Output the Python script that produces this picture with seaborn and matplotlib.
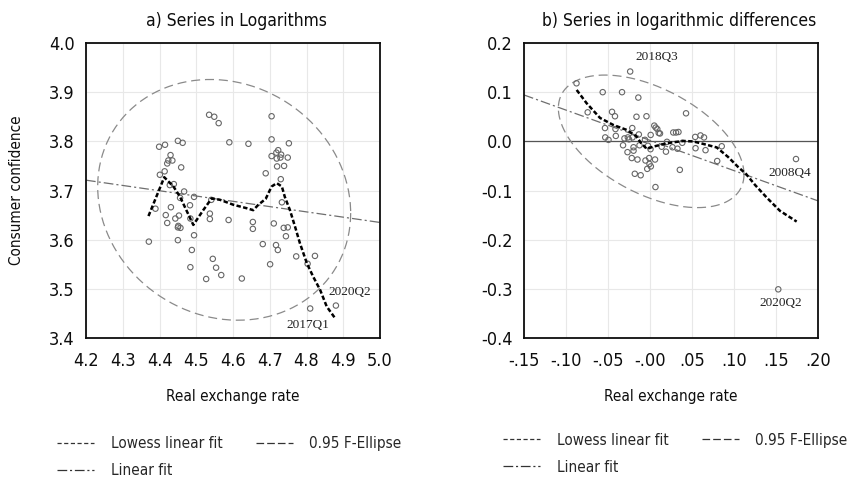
import numpy as np
import pandas as pd
import matplotlib
matplotlib.use("Agg")
import matplotlib.pyplot as plt
from matplotlib.lines import Line2D
import seaborn as sns

# ---------------- data ----------------
# Panel a) series in logarithms
log_rer = [4.371, 4.389, 4.399, 4.415, 4.450, 4.463, 4.430, 4.424, 4.435, 4.421,
           4.459, 4.414, 4.401, 4.428, 4.439, 4.467, 4.456, 4.494, 4.483, 4.431,
           4.417, 4.453, 4.443, 4.484, 4.421, 4.451, 4.457, 4.450, 4.450, 4.494,
           4.488, 4.484, 4.535, 4.549, 4.561, 4.590, 4.541, 4.537, 4.537, 4.588,
           4.545, 4.554, 4.568, 4.527, 4.624, 4.642, 4.654, 4.654, 4.681, 4.689,
           4.705, 4.705, 4.705, 4.718, 4.723, 4.731, 4.719, 4.729, 4.720, 4.739,
           4.752, 4.749, 4.730, 4.733, 4.711, 4.717, 4.722, 4.738, 4.749, 4.744,
           4.701, 4.772, 4.823, 4.803, 4.810, 4.880]
log_cc = [3.596, 3.663, 3.789, 3.793, 3.801, 3.797, 3.772, 3.761, 3.761, 3.755,
          3.747, 3.739, 3.732, 3.711, 3.713, 3.698, 3.685, 3.687, 3.670, 3.666,
          3.650, 3.649, 3.643, 3.643, 3.634, 3.628, 3.624, 3.625, 3.599, 3.609,
          3.579, 3.544, 3.854, 3.850, 3.837, 3.798, 3.681, 3.653, 3.642, 3.640,
          3.561, 3.543, 3.528, 3.520, 3.521, 3.795, 3.636, 3.622, 3.591, 3.735,
          3.851, 3.804, 3.770, 3.777, 3.782, 3.773, 3.765, 3.767, 3.749, 3.750,
          3.796, 3.767, 3.723, 3.676, 3.633, 3.589, 3.579, 3.624, 3.625, 3.607,
          3.550, 3.566, 3.567, 3.551, 3.460, 3.466]
lowess_a_x = [4.370, 4.413, 4.438, 4.456, 4.492, 4.519, 4.542, 4.565, 4.601, 4.637,
              4.655, 4.669, 4.689, 4.705, 4.719, 4.733, 4.741, 4.755, 4.769, 4.782,
              4.801, 4.818, 4.837, 4.855, 4.878]
lowess_a_y = [3.648, 3.727, 3.708, 3.687, 3.630, 3.660, 3.684, 3.681, 3.671, 3.664,
              3.660, 3.671, 3.683, 3.708, 3.715, 3.708, 3.687, 3.660, 3.626, 3.593,
              3.552, 3.525, 3.498, 3.464, 3.440]
linfit_a_x = [4.2, 5.0]
linfit_a_y = [3.721, 3.635]
# ellipse: centre, half-width, half-height, correlation
ell_a = dict(cx=4.576, cy=3.681, rx=0.3442, ry=0.2448, rho=-0.11)
labels_a = ["2020Q2", "2017Q1"]
labels_a_x = [4.918, 4.805]
labels_a_y = [3.494, 3.4265]

# Panel b) series in logarithmic differences
dlog_rer = [-0.0875, -0.0236, -0.0563, -0.0333, -0.0139, -0.0742, -0.0452, -0.0417, -0.0161, -0.0042,
            0.0429, -0.0536, -0.0411, -0.0407, -0.0211, 0.0051, 0.0068, 0.0087, 0.0104, 0.0008,
            -0.0533, -0.0494, -0.0304, -0.0264, -0.0250, -0.0208, -0.0133, -0.0060, -0.0321, -0.0196,
            -0.0125, -0.0268, -0.0196, -0.0024, 0.0006, -0.0217, -0.0149, -0.0010, 0.0060, -0.0054,
            -0.0006, 0.0010, -0.0033, -0.0181, -0.0111, 0.0065, 0.0119, 0.0139, 0.0190, 0.0202,
            0.0277, 0.0310, 0.0339, 0.0268, 0.0327, 0.0384, 0.0355, 0.0538, 0.0601, 0.0643,
            0.0542, 0.0661, 0.0854, 0.0800, 0.1738, 0.1527]
dlog_cc = [0.118, 0.142, 0.100, 0.100, 0.089, 0.059, 0.060, 0.051, 0.050, 0.051,
           0.057, 0.027, 0.025, 0.011, 0.027, 0.032, 0.028, 0.025, 0.017, 0.013,
           0.008, 0.003, 0.006, 0.008, 0.004, 0.008, 0.014, 0.003, -0.008, -0.012,
           -0.008, -0.022, -0.019, -0.009, -0.016, -0.034, -0.037, -0.034, -0.037, -0.039,
           -0.046, -0.051, -0.056, -0.066, -0.069, -0.093, 0.016, -0.011, -0.021, -0.001,
           0.018, 0.018, 0.019, -0.012, -0.015, -0.003, -0.058, 0.009, 0.012, 0.008,
           -0.014, -0.018, -0.010, -0.040, -0.036, -0.301]
lowess_b_x = [-0.0873, -0.0754, -0.0595, -0.0437, -0.0277, -0.0167, -0.0107, -0.0039, 0.0039, 0.0199,
              0.0396, 0.0515, 0.0635, 0.0794, 0.0929, 0.1048, 0.1143, 0.1250, 0.1393, 0.1548, 0.1746]
lowess_b_y = [0.1045, 0.0774, 0.0476, 0.0333, 0.0232, 0.0110, -0.0033, -0.0154, -0.0108, -0.0039,
              0.0008, -0.0002, -0.0053, -0.0124, -0.0317, -0.0520, -0.0663, -0.0886, -0.1150, -0.1415, -0.1632]
linfit_b_x = [-0.15, 0.20]
linfit_b_y = [0.0943, -0.1211]
ell_b = dict(cx=0.0014, cy=0.0, rx=0.1105, ry=0.1348, rho=-0.50)
labels_b = ["2018Q3", "2008Q4", "2020Q2"]
labels_b_x = [0.0083, 0.1667, 0.156]
labels_b_y = [0.172, -0.065, -0.329]

# axes ticks / labels
a_xticks = [4.2, 4.3, 4.4, 4.5, 4.6, 4.7, 4.8, 4.9, 5.0]
a_xticklabels = ["4.2", "4.3", "4.4", "4.5", "4.6", "4.7", "4.8", "4.9", "5.0"]
a_yticks = [3.4, 3.5, 3.6, 3.7, 3.8, 3.9, 4.0]
a_yticklabels = ["3.4", "3.5", "3.6", "3.7", "3.8", "3.9", "4.0"]
b_xticks = [-0.15, -0.10, -0.05, 0.0, 0.05, 0.10, 0.15, 0.20]
b_xticklabels = ["-.15", "-.10", "-.05", "-.00", ".05", ".10", ".15", ".20"]
b_yticks = [-0.4, -0.3, -0.2, -0.1, 0.0, 0.1, 0.2]
b_yticklabels = ["-0.4", "-0.3", "-0.2", "-0.1", "0.0", "0.1", "0.2"]

title_a = "a) Series in Logarithms"
title_b = "b) Series in logarithmic differences"
xlabel = "Real exchange rate"
ylabel_a = "Consumer confidence"
legend_labels = ["Lowess linear fit", "Linear fit", "0.95 F-Ellipse"]

# ---------------- style ----------------
sns.set_theme(style="white")
plt.rcParams["font.family"] = ["DejaVu Sans"]
plt.rcParams["font.stretch"] = "condensed"
plt.rcParams["lines.scale_dashes"] = False
serif = ["Liberation Serif", "DejaVu Serif"]

POINT_EC = "#666666"
GRID_C = "#e8e8e8"
TXT = "#0d0d0d"
F_TICK = 13
F_LAB = 11
F_TITLE = 12.5
F_LEG = 11


def ellipse_df(p):
    t = np.linspace(0, 2 * np.pi, 240)
    phi = np.arccos(p["rho"])
    return pd.DataFrame({"x": p["cx"] + p["rx"] * np.cos(t),
                         "y": p["cy"] + p["ry"] * np.cos(t + phi)})


def draw_panel(ax, xs, ys, lx, ly, fx, fy, ell, xlim, ylim, xt, xtl, yt, ytl, title, tx):
    ax.set_xlim(*xlim)
    ax.set_ylim(*ylim)
    ax.set_xticks(xt)
    ax.set_xticklabels(xtl)
    ax.set_yticks(yt)
    ax.set_yticklabels(ytl)
    ax.grid(True, color=GRID_C, lw=0.8, zorder=0)
    ax.set_axisbelow(True)
    ax.tick_params(length=0, labelsize=F_TICK, colors=TXT)
    ax.tick_params(axis="x", pad=10)
    ax.tick_params(axis="y", pad=8)
    for s in ax.spines.values():
        s.set_visible(True)
        s.set_color(TXT)
        s.set_linewidth(1.3)
    ed = ellipse_df(ell)
    sns.lineplot(data=ed, x="x", y="y", sort=False, ax=ax, color="#8a8a8a",
                 lw=0.9, estimator=None, zorder=2)
    ax.lines[-1].set_dashes((6.5, 3.5))
    sns.lineplot(x=fx, y=fy, ax=ax, color="#6e6e6e", lw=0.9, estimator=None, zorder=2)
    ax.lines[-1].set_dashes((7, 2.2, 1.5, 2.2))
    sns.scatterplot(x=xs, y=ys, ax=ax, marker="o", s=15, facecolor="none",
                    edgecolor=POINT_EC, linewidth=0.8, zorder=3)
    sns.lineplot(x=lx, y=ly, sort=False, ax=ax, color="black", lw=1.8,
                 estimator=None, zorder=4)
    ax.lines[-1].set_dashes((3.2, 1.7))
    ax.set_title(title, fontsize=F_TITLE, pad=12, color=TXT, x=tx)
    ax.set_xlabel(xlabel, fontsize=F_LAB, labelpad=14, color=TXT)


fig = plt.figure(figsize=(8.47, 4.84), dpi=100)
axA = fig.add_axes([86 / 847, 1 - 338 / 484, 294 / 847, 295 / 484])
axB = fig.add_axes([524 / 847, 1 - 338 / 484, 294 / 847, 295 / 484])

draw_panel(axA, log_rer, log_cc, lowess_a_x, lowess_a_y, linfit_a_x, linfit_a_y, ell_a,
           (4.2, 5.0), (3.4, 4.0), a_xticks, a_xticklabels, a_yticks, a_yticklabels, title_a, 0.51)
axA.set_ylabel(ylabel_a, fontsize=F_LAB, labelpad=18, color=TXT)
for t, x, y in zip(labels_a, labels_a_x, labels_a_y):
    axA.text(x, y, t, family=serif, fontsize=9.5, ha="center", va="center", color="#222222")

axB.axhline(0.0, color="#555555", lw=0.9, zorder=1)
draw_panel(axB, dlog_rer, dlog_cc, lowess_b_x, lowess_b_y, linfit_b_x, linfit_b_y, ell_b,
           (-0.15, 0.20), (-0.4, 0.2), b_xticks, b_xticklabels, b_yticks, b_yticklabels, title_b, 0.527)
axB.set_ylabel("")
for t, x, y in zip(labels_b, labels_b_x, labels_b_y):
    axB.text(x, y, t, family=serif, fontsize=9.5, ha="center", va="center", color="#222222")


def legend_handles():
    h1 = Line2D([], [], color="#333333", lw=0.9, dashes=(3, 1.8))
    h2 = Line2D([], [], color="#333333", lw=0.9, dashes=(7, 2, 1.5, 2))
    h3 = Line2D([], [], color="#333333", lw=0.9, dashes=(5.5, 2.2))
    return [h1, h2, h3]


for ax, anchor in ((axA, (-0.119, -0.312)), (axB, (-0.092, -0.300))):
    ax.legend(legend_handles(), legend_labels, ncol=2, frameon=False,
              loc="upper left", bbox_to_anchor=anchor,
              fontsize=F_LEG, handlelength=2.4, handletextpad=1.1, columnspacing=2.2,
              labelspacing=0.78, borderaxespad=0)

fig.savefig("out.png", dpi=100)
